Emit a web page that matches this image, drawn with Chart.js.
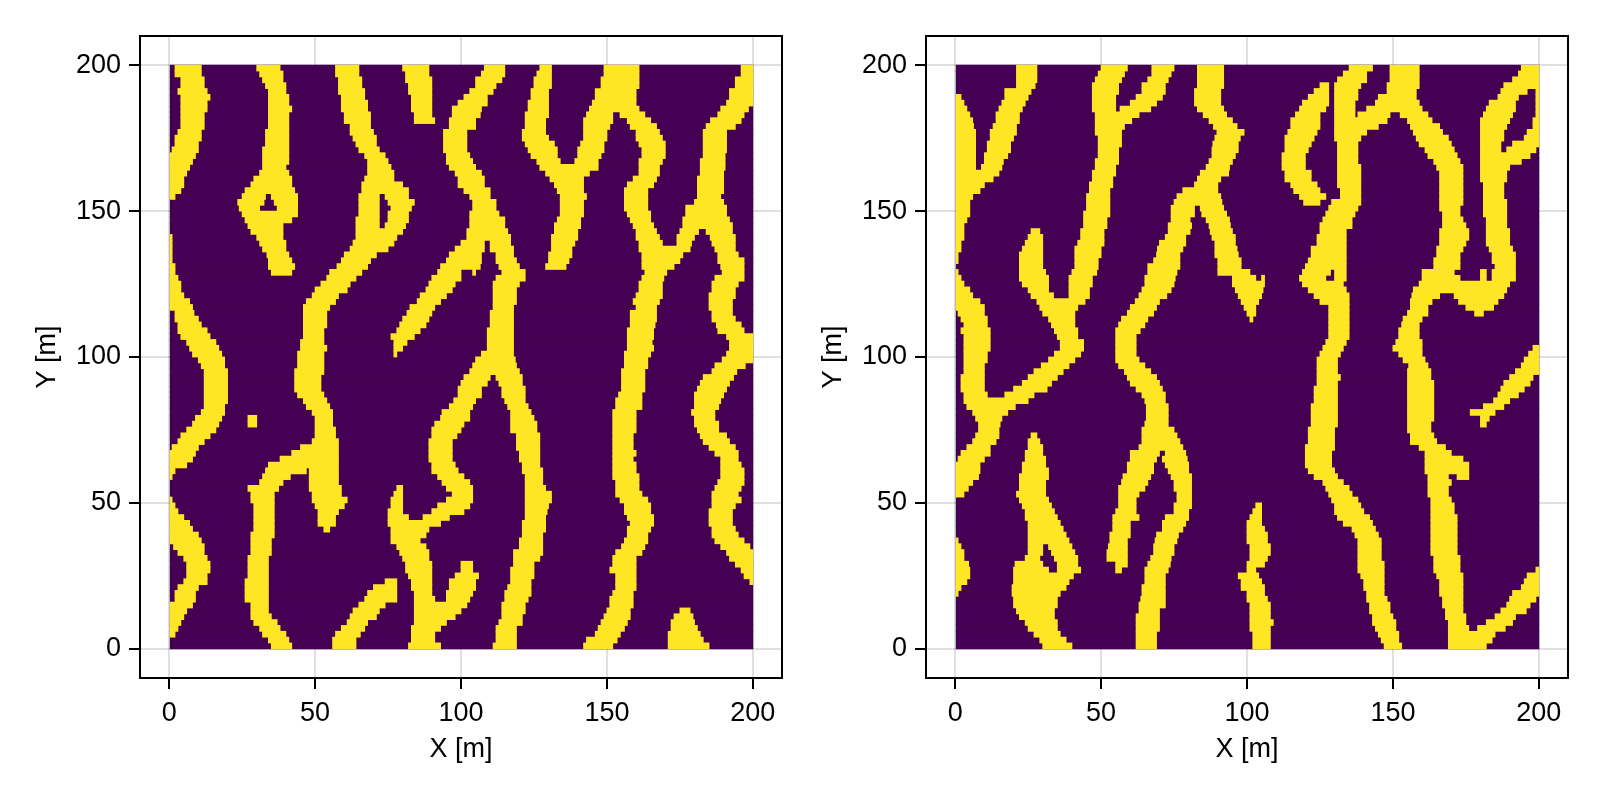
<!DOCTYPE html>
<html>
<head>
    <title>Facies maps</title>
    <script src="https://cdn.jsdelivr.net/npm/chart.js"></script>
    <style>
        body { margin: 0; background: white; }
        canvas { position: absolute; top: 0; }
    </style>
</head>
<body>
    <canvas id="mapLeft" width="800" height="800" style="left:0"></canvas>
    <canvas id="mapRight" width="800" height="800" style="left:786px"></canvas>
<script>
    const tickValues = [0, 50, 100, 150, 200];

    // row centres (Y, metres), top to bottom; each row below lists yellow spans as from,to,from,to (X, metres)
    const rowY = [199, 197, 195, 193, 191, 189, 187, 185, 183, 181, 179, 177, 175, 173, 171, 169, 167, 165, 163, 161,
        159, 157, 155, 153, 151, 149, 147, 145, 143, 141, 139, 137, 135, 133, 131, 129, 127, 125, 123, 121,
        119, 117, 115, 113, 111, 109, 107, 105, 103, 101, 99, 97, 95, 93, 91, 89, 87, 85, 83, 81,
        79, 77, 75, 73, 71, 69, 67, 65, 63, 61, 59, 57, 55, 53, 51, 49, 47, 45, 43, 41,
        39, 37, 35, 33, 31, 29, 27, 25, 23, 21, 19, 17, 15, 13, 11, 9, 7, 5, 3, 1];

    const leftRows = [
        [2,11,30,38,57,65,80,89,108,115,127,131,149,161,196,200],
        [2,11,31,39,57,65,81,89,107,115,126,131,149,161,196,200],
        [4,12,32,39,58,66,81,90,105,114,125,131,148,161,194,200],
        [4,12,33,40,58,66,82,90,105,112,125,131,148,161,194,200],
        [3,13,34,40,58,67,82,90,103,111,124,130,146,160,192,200],
        [4,14,34,41,59,67,83,90,101,109,124,130,146,160,192,200],
        [4,13,34,41,59,68,83,90,99,109,123,130,145,160,191,200],
        [4,13,34,42,59,68,83,90,97,107,123,130,144,161,189,198.5],
        [4,12,34,41,60,69,84,90,97,106.6,122,130,143,152,154.5,163,188,197],
        [4,12,34,41,60,69,84,91,96,105,122,129,142,152,157,165,185.5,196],
        [4,12,34,41,62,69,96,105,122,129,142,151,158,167,184,194],
        [3,11,33,41,62,70,94,102,121,129,142,150,160,168,183,191],
        [2,11,33,41,63,71,94,102,121,130,142,150,160,169,183,191],
        [2,10,33,41,64,71,94,102,122,132,141,149,161,170,183,191],
        [1,10,32,41,65,72,94,102,123,133,140,149,162,170,183,191],
        [0,9,32,41,67,74,95,103,124,133,140,148,162,170,183,190.5],
        [0,8,32,41,68,75,95,104,126,134,139,147,161,169,182,190.5],
        [0,7,32,40,68,76,96,105,127,147,161,168,182,190.5],
        [0,6,31,41,68,77,98,107,129,144,161,168,182,190],
        [0,5,29,42,67,77,99,108,130.5,142,159,167,181,190],
        [0,5,28,42,66,80,99,108,132,142,157,166,181,190],
        [0,4,26,43,66,82,101,110,133,142,156,164,181,190],
        [0,2,25,33,35,44,65,72,74,82,103,110,134,143,156,164,181,189],
        [23.5,32.5,36,44,65,72,75,84,104,112,134,142,156,164,180,190],
        [24,31,37,44,65,72,76,83,104,112,134,142,156,164,177,191],
        [25,44,65,72,75,82,103,113,134,142,157,165,177,191],
        [26,42,64,72,75,82,103,115,133,141,158,165,176,192],
        [27,39,64,72,74,81,103,115,132,141,159,166,176,193],
        [28,39,64,80,102,116,132,140,160,167,175,181.4,184,193],
        [0,1,30,39,64,78,102,117,131,140,160,168,174,180,185.4,194],
        [0,1,31,40,63,77,100,108,110,117,131,139,161,169,174,179,186,194],
        [0,1,32,40,62,75,98,108,110,118,131,138,161,178.5,187,194],
        [0,1,33.5,41,60,71,96,107,112,118,130,138,162,176,188,195],
        [0,1,34,42,59,69,95,107,112,119,130,137,162,175,188,197],
        [0,2,34,43,57.5,68,93,106.6,113,120,129,136,162,173,189,197],
        [0,2,35,42,55,66,92,100,104,105,114,122,163,170.5,189.5,197],
        [0,3,54,64,90,100,112,122,162,169.5,187,197],
        [0,4,52,62,89,98,111,120,161,169,186,195],
        [0,4,50,61,88,97,111,119,161,169,186,194],
        [0,5,49,58,86,95,111,119,160,169,185,194],
        [0,7,47,57,85,93,111,119,159,168,185,193],
        [0,8,46,55,82.5,91,111,118,160,167,185,193],
        [2,8.5,46,54,81.5,90,110,118,158,167,186,193],
        [2,10,46,54,80,89,110,118,158,167,186,194],
        [3,11,46,54,79,88,110,118,158,166.5,187.5,196],
        [3,13,46,53,78,86,109,118,157,166,188,197],
        [4,14,46,53,76,84,109,118,157,166,191,200],
        [6,16,45,53,77,81.5,109,118,157,165.5,192,200],
        [7,17,45,54,77,80,109,118,157,166,192,200],
        [8,18,44,53,77,78,107,118,156,165,191,200],
        [10,19,44,53,105,118.6,156,164,189.5,200],
        [11,19,44,53,104,119,156,164,187,197.4],
        [12,20,43,53,103,120,155,163,186,194.5],
        [12,20,43,52,101,110,112,121,155,163,183,193.4],
        [12,20,43,52,100,109,113,121,155,163,182,192],
        [12,20,43,52,99,107,114,122,155,163,181,191],
        [12,20,44,53,99,107,114,122,154,162,180,190],
        [12,20,46,54,97.5,105,115,122,153,162,180,189],
        [12,19,47,55,96,104,116,123,153,162,180,188.3],
        [11,19,49,56,93.5,103,117,124,152,160,179,187],
        [9,18,27,30,50,56,93,103,117,125,152,160,180,187],
        [8,17,27,30,50,56,91,101,117,126,152,160,180,188.3],
        [6,16,50,57,90,100,117,126,152,160,181,188.3],
        [4,14,50,57,90,98.6,119,127,152,159,182,191],
        [3,12,49,58,89,97,119,127,152,159,183,192],
        [1,10,45,58,89,97,119,127,152,159,185,194],
        [0,9,42,58,89,97,120,127,152,160,187,195],
        [0,8,38,58,89,97,120,127,152,159,189,195],
        [0,6,34,58,90,98,121,127,152,160,189,196],
        [0,2,33,47,48,58,90,99,121,128,152,160,189,197],
        [0,1,32,41.5,48,58,92,101,122,128,152,161,189,197],
        [31,39,48,58,93.5,103,122,128,153,161,188,197],
        [27,37.5,48,59,78,80,95,104,122,129,153,161,187,196],
        [28,36,49,59,77,80,97,104,122,131,153,162,186,195],
        [0,1,28,36,49,61,76,80,95,104,122,131,154.5,164,186,196],
        [0,2,29,36,50,60,76,80,92,103,122,130,156,165,186,194],
        [0,3,29,36,51,58,75,80,90,101,122,129.5,156,165,185,193],
        [0,5,29,36,51,57,75,82,87,96,122,129,157,166,185,193],
        [0,7,29,36,51,57,75,93,121,129,158,166,185,193],
        [0,8,29,36,53,55,76,89,121,129,157,165,186,194],
        [0,10,28,36,76,88,121,128,157,164,186,195],
        [0,11,28,35,76,86,120,128,156,164,187,197],
        [1.5,12,28,35,78,88,120,128,155,163,189,199],
        [3,12,28,35,79,89,118,128,153,162,191,200],
        [5,13,27,34,80,89,118,127,152,160,192,200],
        [6,14,27,34,81,90,100,104,118,125,152,160,194,200],
        [6,14,27,34,81,90,100,104,117,125,151,160,196,200],
        [6,13,27,34,82,90,98,106,117,125,153,160,197,200],
        [5,13,26,34,74,78,83,90,96,105,117,124,153,160,199,200],
        [3,10,26,34,70,78,83,90,96,105,116,124,153,160],
        [2,9,26,34,68,78,84,90,95,104,115,124,152,159],
        [2,9,26,34,67,78,84,91,95,103,115,123,151,159],
        [0,8,28,34,65,74,84,102,114,122,151,159],
        [0,6,28,34,63,72,84,100,114,122,150,158,175,178.5],
        [0,5,28,35,62,71,84,98,114,121,149,158,173,179.5],
        [0,4,29,37,61,68,84,95,113,121,148,157,172,180],
        [0,3,31,38,59,67,83,93,112,119,147,156,172,181],
        [0,2,32,40,57,65.5,83,91,112,119,146,154.6,171,182],
        [34,41,56,64,83,91,112,119,143,153.5,171,183],
        [35,42,56,64,82,93,111,119,142,152,171,185]
    ];

    const rightRows = [
        [21,28,50,59,67.4,75,83,92,135,143,149,159,194,200],
        [21,28,49,58,67.4,74,83,92,133,141,149,159,193,200],
        [21,28,48,57,66,73,83,92,131,141,149,159,191,200],
        [21,27.4,47,56,64,72,83,92,125,128,130,139,148,159,188,200],
        [17,26,47,56,64,72,82,91,123,128,130,138,148,158,187,196,199,200],
        [0,2,17,25,47,55,62,71,82,91,121,128,130,138,145,158,186,193,199,200],
        [0,3,16,24,47,55,60,69,82,91,119,128,130,137,144,159,183,192,199,200],
        [0,4,15,23,47,55,56.5,67,83,92,118,127,130,137,141,160,182,192,199,200],
        [0,5,14,22,48,63,85,93,116.6,125,130,137,138,149,152.5,162,181,191,199,200],
        [0,6,14,22,48,60.5,87,95,115,125,130,148,155,163.4,180,190,198,200],
        [0,6.3,13,21,48,58,88.5,96.6,115,125,130,145,156,166,180,189,198,200],
        [0,7,12,21,48,57,89.7,99,114,124,130,141,157,167,180,188,196,200],
        [0,7,12,20,49,57,89,97.7,113,123,130,139,158,169,180,188,195,200],
        [0,7,11,19,49,57,88.3,97,113,122,131,138,159,170,180,187,191,200],
        [0,7,11,19,49,56,88,97,113,121,131,138,161,171,180,187,189,199],
        [0,7,10,18,49,56,88,96,112,120,131,138,162,172,180,197],
        [0,7,10,16.5,48,56,87,95,112,120,131,138,164,173,180,194],
        [0,7,9,16,48,55,86,94,112,120,131,139,165,174,180,190],
        [0,15,47,55,84,93.7,113,122,131,139,166,174,180,189],
        [0,13,47,54,83,91,113,122,131,139,166,174,180,189],
        [0,10,46,54,82,90,115,124,131,139,166,174,181,188],
        [0,8.5,46,53,78,90,116,125,132,139,166,174,181,188],
        [0,6,45,53,76,91,118,127,132,139,166,174,181,188],
        [0,5,45,53,75,91.4,119.4,125,129,139,166,174,181,189],
        [0,5,45,53,74,82,84,92,128,138,166,173,181,189],
        [0,5,44,53,74,82,84.5,93,127,137,167,173,181,189],
        [0,4,44,52,74,80.5,86,94,126,136,167,174,182,189],
        [0,3,44,52,73,81,87,94.3,125,136,167,175,182,189],
        [0,3,26,29,43,51,73,80.5,87.4,95,125,134,166,176,182,190],
        [0,3,25,30,43,51,72,79,88,96,124,134,166,176,182,190],
        [0,2,24,30,42,51,70,79,89,96,124,134,166,175,182,190],
        [0,2,23,30,41,50,69.3,78,89,96.6,122,134,165,174,183,191],
        [0,1,22,30,41,50,69,77,89,97,122,134,165,173,184,192],
        [0,1,22,30,41,49,68,77,90,98,121,134,164,173,184,192],
        [22,30,41,49,66,77,90,98,120,134,164,173,185,192],
        [0,1,22,31,40,48.5,66,76,90,101,119,128.6,130,134,160,171,180,182,184,192],
        [0,2,22,32,39,47,65,75.4,95,103,105,106,118,127,130,134,160,173,180,182,184,192],
        [0,3,23,32,39,47,65,75,95,106,119,133,159,190],
        [0,5,25,32,39,46,64,74,96,105.5,121,134,157,189],
        [0,6,26,33.7,39,46,63,72.5,97,105,123,135,156.5,166,171,188],
        [0,8.5,28,44.5,61.7,70,98,104,125,135,156,163.4,172.5,186],
        [0,10,29,42,60,69,99,103,128,135,156,162,175,184.5],
        [1,10,30,41,59,68,100,103,128,135,155,162,178,181],
        [2,11,32,41,57,66,101,102,128,135,153.5,160],
        [3,11,33,41,56,65,128,135,153,159],
        [2,12,34,42,55,63.4,128,135,152,159],
        [3,12,35,42,55,62,128,135,152,159],
        [3,12,36,44,55,62,127,134,151,160],
        [3,12,36,44,55,62,126,133,150,160,198,200],
        [3,11,34,43,55,62,125,132,152,160,196.5,200],
        [3,11,32,41,55,63,124,131,153.5,161,195,200],
        [3,10,29.5,39,56,65,124,131,155.4,162,194,200],
        [3,10,27,37,58,67,124,131,155,163,192,200],
        [2,10,25,35,59,69,124,132,155,163,190,198],
        [2,10,23,33,60,70,124,131,155,164,188,197],
        [2,10,20,31.5,62,71,123,131,155,164,187,195],
        [3,11,17,27,64,72,123,131,155,164,186,193],
        [3,25,65,72,123,131,155,164,184.5,190],
        [4,20.6,65.5,73,122,131,155,164,181,188],
        [6,18,65.5,73,122,131,155,164,176.5,185],
        [7,16,65.5,73,122,131,155,164,180,183],
        [8,15.4,65,73,122,131,155,163,180,182],
        [8,15,64,75,121,130,155,163],
        [7,15,26,28,64,76,121,130,156,164],
        [6,14,25,29,64,77,121,130,156,165],
        [4,12,25,30,63,78,120,130,159,168],
        [2,12,24,30,60,70,72,79,120,129,161,170],
        [1,10,24,31,60,69,71,79.5,120,129,161,174],
        [0,8.5,23,31,59,68,72,80,120,129,161,176],
        [0,8.5,23,32,59,68,73,80,121,130,161,176],
        [0,8,22,32,57.5,67,74,81,123,131,162,169,172,176],
        [0,6,22,31,57,66,75,81,126,133,162,170],
        [0,4.5,22,31,56,65,75,81,127,135,162,169],
        [0,3,21,31,56,63,76,81,128,136,162,169],
        [22,32,56,62,76,81,129,138,163,170],
        [23,33,56,62,75,81,103,105,130,139,163,171],
        [24,34,55,62,75,80,102,105,130,140,163,171],
        [24,35,54,63,72,80,101,105,131,142,163,172],
        [25,36,54,60,71,79,100,105,133,143,163,172],
        [25,37,54,60,71,78,100,106,136,144,163,172],
        [25,38,53,60,69,76.5,100,107,137,145,163,172],
        [0,1,25,39,53,59,68.5,76,100,107,138,146,163,172],
        [0,2,25,30,32,40,52.5,59,68,75,101,108,138,146,163,172],
        [0,3,25,30,33,41,52,59,68,75,101,108,138,146,163,172],
        [0,3,24,29,34,42,52,59,67,74,101,107,138,146,164,173],
        [0,4.6,20.5,30,35,42,55,59,66,73.7,100,106,138,147,164,173],
        [0,5,20,32,35,43,55,57,65,73,100,103,138,147,164,173,199,200],
        [0,5,20,40.5,65,72,97,104,139,147,165,174,196,200],
        [0,4,20,39,65,72,98,105,140,147,166,174,195,200],
        [0,2,19.5,38,64,72,98,106,140,147,166,174,194,200],
        [0,1,19.5,36,64,72,100,106,141,147,166,174,191,200],
        [20,35,63.6,72,100,107,141,148,167,174,190,199],
        [20,35,63,72,101,108,142,149,167,174,189,197],
        [21,34,63,70,101,108,142,149,168,174,187,195.7],
        [22,34,62,70,101,108,143,150,168,175,185,192],
        [24,35,62,70,101,109,143,151,169,175,182,191],
        [25,35,62,70,101,108,144,151,169,176,179,188.5],
        [27,36,62,69,102,108,145,152,169,185],
        [29,38,62,69,102,108,146,152,169,184],
        [30,40,62,69,102,108,147,153,169,182]
    ];

    const font = { family: "'Liberation Sans', Arial, sans-serif", size: 27 };

    // black box round the plot, Chart.js only draws the left and bottom edges
    const frame = {
        id: 'frame',
        afterDraw(chart) {
            const { ctx, chartArea: a } = chart;
            ctx.save();
            ctx.strokeStyle = 'black';
            ctx.lineWidth = 2;
            ctx.strokeRect(a.left, a.top, a.right - a.left, a.bottom - a.top);
            ctx.restore();
        }
    };

    function axis(label, extra) {
        return Object.assign({
            type: 'linear',
            min: -10,
            max: 210,
            offset: false,
            afterBuildTicks: scale => { scale.ticks = tickValues.map(v => ({ value: v })); },
            grid: { offset: false, color: 'rgba(0,0,0,0.12)', lineWidth: 2, tickColor: 'black', tickWidth: 2, tickLength: 11 },
            border: { color: 'black', width: 2 },
            ticks: { color: 'black', font: font, maxRotation: 0, autoSkip: false, padding: 8 },
            title: { display: true, text: label, color: 'black', font: font }
        }, extra);
    }

    function drawMap(id, rows) {
        const yellow = [];
        rows.forEach((spans, i) => {
            for (let j = 0; j < spans.length; j += 2) {
                yellow.push({ x: [spans[j], spans[j + 1]], y: rowY[i] });
            }
        });
        const purple = rowY.map(y => ({ x: [0, 200], y: y }));
        // a row is 5.84 px high; barThickness is capped at that, so inflate a little to close the seams
        const rowBar = { grouped: false, barPercentage: 1, categoryPercentage: 1, barThickness: 5.84, inflateAmount: 0.4 };

        return new Chart(document.getElementById(id), {
            type: 'bar',
            data: {
                datasets: [
                    Object.assign({ data: yellow, backgroundColor: '#fde725' }, rowBar),
                    Object.assign({ data: purple, backgroundColor: '#440154' }, rowBar)
                ]
            },
            options: {
                indexAxis: 'y',
                responsive: false,
                animation: false,
                devicePixelRatio: 1,
                layout: { padding: { top: 36, right: 18, left: 0, bottom: 0 } },
                plugins: { legend: { display: false }, tooltip: { enabled: false } },
                scales: {
                    x: axis('X [m]', {
                        afterFit: scale => { scale.height = 122; },
                        title: { display: true, text: 'X [m]', color: 'black', font: font, padding: { top: 0, bottom: 34 } }
                    }),
                    y: axis('Y [m]', {
                        afterFit: scale => { scale.width = 140; },
                        title: { display: true, text: 'Y [m]', color: 'black', font: font, padding: { top: 31, bottom: 0 } }
                    })
                }
            },
            plugins: [frame]
        });
    }

    drawMap('mapLeft', leftRows);
    drawMap('mapRight', rightRows);
</script>
</body>
</html>
